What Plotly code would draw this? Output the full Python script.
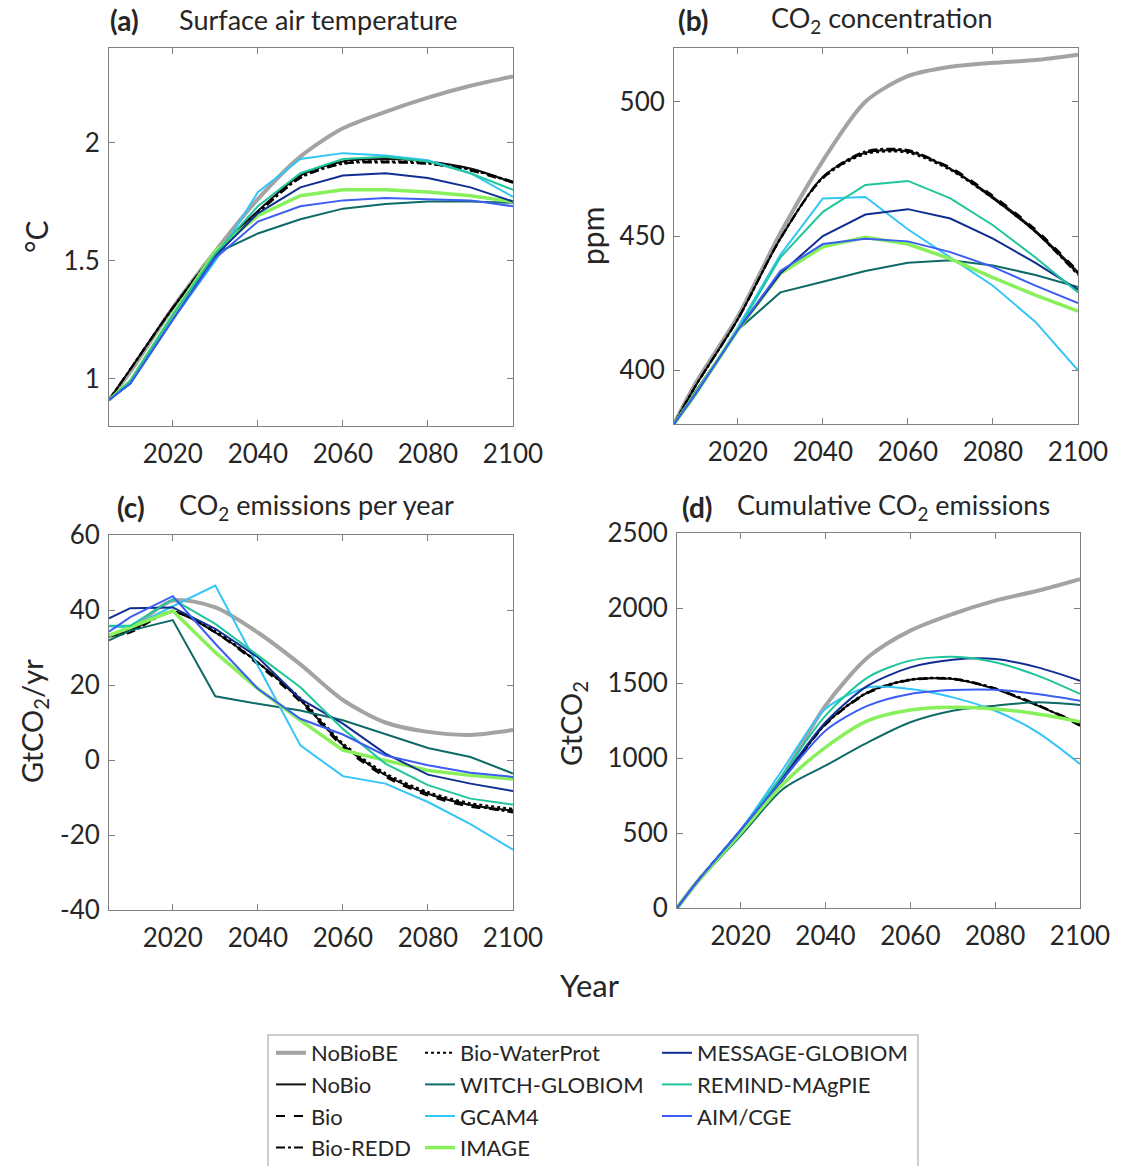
import plotly.graph_objects as go

# ---------------------------------------------------------------- data
years = [2005, 2010, 2020, 2030, 2040, 2050, 2060, 2070, 2080, 2090, 2100]

x_ticks = [2020, 2040, 2060, 2080, 2100]

# (a) surface air temperature, degC
temp_nobiobe = [0.91, 1.03, 1.30, 1.54, 1.76, 1.94, 2.06, 2.13, 2.19, 2.24, 2.28]
temp_nobio = [0.91, 1.04, 1.30, 1.53, 1.71, 1.86, 1.92, 1.93, 1.92, 1.89, 1.83]
temp_bio = [0.91, 1.04, 1.30, 1.53, 1.70, 1.85, 1.91, 1.92, 1.91, 1.88, 1.83]
temp_bio_redd = [0.91, 1.04, 1.30, 1.53, 1.70, 1.85, 1.91, 1.915, 1.91, 1.885, 1.835]
temp_bio_waterprot = [0.91, 1.04, 1.30, 1.53, 1.705, 1.855, 1.915, 1.92, 1.915, 1.885, 1.83]
temp_witch = [0.91, 0.99, 1.27, 1.53, 1.615, 1.675, 1.72, 1.74, 1.75, 1.75, 1.745]
temp_gcam = [0.91, 0.98, 1.25, 1.50, 1.79, 1.93, 1.955, 1.945, 1.925, 1.87, 1.77]
temp_image = [0.91, 0.99, 1.27, 1.54, 1.69, 1.775, 1.80, 1.80, 1.79, 1.775, 1.75]
temp_message = [0.91, 0.98, 1.25, 1.52, 1.70, 1.81, 1.86, 1.87, 1.85, 1.81, 1.75]
temp_remind = [0.91, 0.99, 1.27, 1.53, 1.73, 1.87, 1.93, 1.94, 1.92, 1.87, 1.80]
temp_aim = [0.91, 0.98, 1.25, 1.51, 1.665, 1.73, 1.755, 1.765, 1.76, 1.755, 1.73]
temp_ticks = [1, 1.5, 2]
temp_ticktext = ["1", "1.5", "2"]

# (b) CO2 concentration, ppm
conc_nobiobe = [380, 395, 420, 451, 478, 500, 509.5, 513, 514.5, 515.5, 517.5]
conc_nobio = [380, 394, 419, 449, 472, 481, 481.5, 475, 464.5, 452, 436.5]
conc_bio = [380, 394, 419, 449, 471.5, 481, 481.5, 475.5, 465, 452.5, 437]
conc_bio_redd = [380, 394, 419, 449, 472, 481.5, 482, 475, 464, 451.5, 435.5]
conc_bio_waterprot = [380, 394, 419, 449, 471.5, 480.5, 481, 474.5, 464, 451.5, 436]
conc_witch = [380, 392, 415, 429, 433, 437, 440, 441, 439, 435.5, 431]
conc_gcam = [380, 391, 416, 443, 464, 464.5, 452.5, 442, 431.5, 418, 400]
conc_image = [380, 391, 415, 436, 446, 449.5, 447, 441.5, 434.5, 428, 422]
conc_message = [380, 391, 415, 436, 450, 458, 460, 456.5, 449, 440, 430]
conc_remind = [380, 391, 415, 442, 459, 469, 470.5, 464, 454, 442, 429]
conc_aim = [380, 391, 415, 437, 447, 449, 448, 444, 438.5, 431.5, 425]
conc_ticks = [400, 450, 500]
conc_ticktext = ["400", "450", "500"]

# (c) CO2 emissions per year, GtCO2/yr
emis_nobiobe = [33, 35, 42.5, 40.7, 34, 25.5, 16, 10, 7.5, 6.7, 8]
emis_nobio = [33, 34.5, 39.5, 34, 26, 16, 4, -4, -9, -12, -13.5]
emis_bio = [33, 34.5, 39.5, 34, 25.5, 15.5, 3.5, -4.5, -9.5, -12.5, -13.5]
emis_bio_redd = [33, 34, 39.5, 34, 26, 16, 4, -4, -9, -12, -14]
emis_bio_waterprot = [33, 34.5, 39.5, 34.5, 26, 16.5, 4.5, -3.5, -8.5, -11.5, -13]
emis_witch = [31.9, 34.5, 37.3, 17, 15, 13.2, 10.6, 7, 3.2, 0.8, -3.6]
emis_gcam = [35.7, 35.3, 41, 46.5, 25.2, 3.9, -4.3, -6.3, -11.2, -17.1, -23.9]
emis_image = [33.2, 35.4, 39.8, 28.7, 19, 10.6, 2.6, -0.1, -2.8, -4.1, -5.1]
emis_message = [37.8, 40.5, 40.7, 35, 27.4, 16.3, 9.7, 1.7, -3.9, -6.3, -8.3]
emis_remind = [35.8, 35.8, 42.9, 36.3, 27.9, 19.4, 8.3, -1, -6.7, -10.3, -11.9]
emis_aim = [34.2, 38.1, 43.7, 31, 19, 11, 6.8, 1.2, -1.4, -3.4, -4.5]
emis_ticks = [-40, -20, 0, 20, 40, 60]
emis_ticktext = ["-40", "-20", "0", "20", "40", "60"]

# (d) cumulative CO2 emissions, GtCO2
cum_nobiobe = [0, 182, 504, 882, 1349, 1671, 1849, 1960, 2049, 2115, 2193]
cum_nobio = [0, 185, 515, 860, 1227, 1438, 1522, 1527, 1460, 1349, 1227]
cum_bio = [0, 185, 515, 858, 1222, 1432, 1518, 1525, 1462, 1352, 1232]
cum_bio_redd = [0, 185, 515, 860, 1225, 1436, 1520, 1530, 1465, 1355, 1215]
cum_bio_waterprot = [0, 185, 515, 862, 1230, 1440, 1525, 1530, 1462, 1350, 1225]
cum_witch = [0, 180, 482, 793, 949, 1104, 1238, 1315, 1349, 1371, 1353]
cum_gcam = [0, 185, 520, 927, 1327, 1471, 1460, 1404, 1315, 1171, 960]
cum_image = [0, 180, 500, 827, 1071, 1249, 1320, 1338, 1327, 1293, 1242]
cum_message = [0, 185, 520, 871, 1238, 1482, 1604, 1655, 1660, 1604, 1515]
cum_remind = [0, 185, 515, 893, 1282, 1538, 1649, 1675, 1638, 1549, 1427]
cum_aim = [0, 185, 520, 860, 1182, 1349, 1427, 1453, 1455, 1427, 1382]
cum_ticks = [0, 500, 1000, 1500, 2000, 2500]
cum_ticktext = ["0", "500", "1000", "1500", "2000", "2500"]

# ---------------------------------------------------------------- styles
series_names = ["NoBioBE", "NoBio", "Bio", "Bio-REDD", "Bio-WaterProt",
                "WITCH-GLOBIOM", "GCAM4", "IMAGE",
                "MESSAGE-GLOBIOM", "REMIND-MAgPIE", "AIM/CGE"]

styles = {
    "NoBioBE": dict(color="#A3A3A3", width=4, dash="solid", shape="spline", legend="legend"),
    "NoBio": dict(color="#111111", width=2, dash="solid", shape="spline", legend="legend"),
    "Bio": dict(color="#000000", width=2, dash="dash", shape="spline", legend="legend"),
    "Bio-REDD": dict(color="#000000", width=2, dash="dashdot", shape="spline", legend="legend"),
    "Bio-WaterProt": dict(color="#000000", width=2, dash="dot", shape="spline", legend="legend2"),
    "WITCH-GLOBIOM": dict(color="#0E6A66", width=2, dash="solid", shape="linear", legend="legend2"),
    "GCAM4": dict(color="#34C5F7", width=2, dash="solid", shape="linear", legend="legend2"),
    "IMAGE": dict(color="#88F05A", width=3.5, dash="solid", shape="linear", legend="legend2"),
    "MESSAGE-GLOBIOM": dict(color="#102E91", width=2, dash="solid", shape="linear", legend="legend3"),
    "REMIND-MAgPIE": dict(color="#1FC69B", width=2, dash="solid", shape="linear", legend="legend3"),
    "AIM/CGE": dict(color="#3C5EF2", width=2, dash="solid", shape="linear", legend="legend3"),
}

panels = [
    ("x", "y", [temp_nobiobe, temp_nobio, temp_bio, temp_bio_redd, temp_bio_waterprot,
                temp_witch, temp_gcam, temp_image, temp_message, temp_remind, temp_aim]),
    ("x2", "y2", [conc_nobiobe, conc_nobio, conc_bio, conc_bio_redd, conc_bio_waterprot,
                  conc_witch, conc_gcam, conc_image, conc_message, conc_remind, conc_aim]),
    ("x3", "y3", [emis_nobiobe, emis_nobio, emis_bio, emis_bio_redd, emis_bio_waterprot,
                  emis_witch, emis_gcam, emis_image, emis_message, emis_remind, emis_aim]),
    ("x4", "y4", [cum_nobiobe, cum_nobio, cum_bio, cum_bio_redd, cum_bio_waterprot,
                  cum_witch, cum_gcam, cum_image, cum_message, cum_remind, cum_aim]),
]

W, H = 1125, 1166
FONT = "Lato, 'Open Sans', sans-serif"
TXT = "#262626"
AXC = "#808080"


def px_x(p):
    return p / W


def px_y(p):
    return 1 - p / H


fig = go.Figure()

for pi, (xa, ya, values) in enumerate(panels):
    for name, yv in zip(series_names, values):
        s = styles[name]
        # panel (d) model pathways are smooth curves
        shape = "spline" if pi == 3 else s["shape"]
        fig.add_trace(go.Scatter(
            x=years, y=yv, name=name, mode="lines",
            xaxis=xa, yaxis=ya,
            line=dict(color=s["color"], width=s["width"], dash=s["dash"],
                      shape=shape, smoothing=0.8),
            legend=s["legend"], showlegend=(pi == 0),
            hoverinfo="skip",
        ))

common_axis = dict(
    showline=True, linecolor=AXC, linewidth=1, mirror="allticks",
    ticks="inside", ticklen=6, tickcolor=AXC, tickwidth=1,
    showgrid=False, zeroline=False, automargin=False,
    tickfont=dict(family=FONT, size=26, color=TXT),
)

# pixel boxes of the four panels: (left, right, top, bottom)
boxes = [(109, 513, 48, 426), (674, 1078, 48, 424),
         (109, 513, 535, 910), (677, 1080, 533, 908)]
yinfo = [([0.8, 2.4], temp_ticks, temp_ticktext),
         ([380, 520], conc_ticks, conc_ticktext),
         ([-40, 60], emis_ticks, emis_ticktext),
         ([0, 2500], cum_ticks, cum_ticktext)]

layout = dict(
    width=W, height=H,
    margin=dict(l=0, r=0, t=0, b=0, pad=0, autoexpand=False),
    paper_bgcolor="white", plot_bgcolor="white",
    font=dict(family=FONT, color=TXT),
)
for i, ((l, r, t, b), (yr, tv, tt)) in enumerate(zip(boxes, yinfo)):
    sfx = "" if i == 0 else str(i + 1)
    layout["xaxis" + sfx] = dict(
        common_axis, domain=[px_x(l), px_x(r)], range=[2005, 2100],
        tickvals=x_ticks, ticktext=[str(v) for v in x_ticks],
        anchor="y" + sfx, ticklabelstandoff=5,
    )
    layout["yaxis" + sfx] = dict(
        common_axis, domain=[px_y(b), px_y(t)], range=yr,
        tickvals=tv, ticktext=tt, anchor="x" + sfx, ticklabelstandoff=3,
    )

legend_common = dict(
    orientation="v", xanchor="left", yanchor="top",
    bgcolor="rgba(0,0,0,0)", borderwidth=0,
    font=dict(family=FONT, size=22, color=TXT),
    itemwidth=30, tracegroupgap=0,
)
layout["legend"] = dict(legend_common, x=px_x(271), y=px_y(1032))
layout["legend2"] = dict(legend_common, x=px_x(420), y=px_y(1032))
layout["legend3"] = dict(legend_common, x=px_x(657), y=px_y(1032))

layout["shapes"] = [dict(
    type="rect", xref="paper", yref="paper",
    x0=px_x(268), x1=px_x(918), y0=px_y(1172), y1=px_y(1035),
    line=dict(color="#BDBDBD", width=1.5), fillcolor="rgba(0,0,0,0)",
)]

ann = []


def text(x, y, s, size=27, xanchor="left", angle=0, bold=False):
    ann.append(dict(
        x=px_x(x), y=px_y(y), xref="paper", yref="paper",
        text=("<b>%s</b>" % s) if bold else s, showarrow=False,
        xanchor=xanchor, yanchor="middle", textangle=angle,
        font=dict(family=FONT, size=size, color=TXT),
    ))


# panel titles
text(108, 20, "(a)", size=28, bold=True)
text(177, 20, "Surface air temperature")
text(676, 20, "(b)", size=28, bold=True)
text(769, 20, "CO<sub>2</sub> concentration")
text(115, 507, "(c)", size=28, bold=True)
text(177, 507, "CO<sub>2</sub> emissions per year")
text(680, 507, "(d)", size=28, bold=True)
text(735, 507, "Cumulative CO<sub>2</sub> emissions")

# axis titles
text(36, 237, "°C", size=30, xanchor="center", angle=-90)
text(592, 236, "ppm", size=30, xanchor="center", angle=-90)
text(33, 721, "GtCO<sub>2</sub>/yr", size=29, xanchor="center", angle=-90)
text(572, 724, "GtCO<sub>2</sub>", size=29, xanchor="center", angle=-90)
text(590, 985, "Year", size=31, xanchor="center")

layout["annotations"] = ann
fig.update_layout(**layout)

fig.write_html("out.html")
